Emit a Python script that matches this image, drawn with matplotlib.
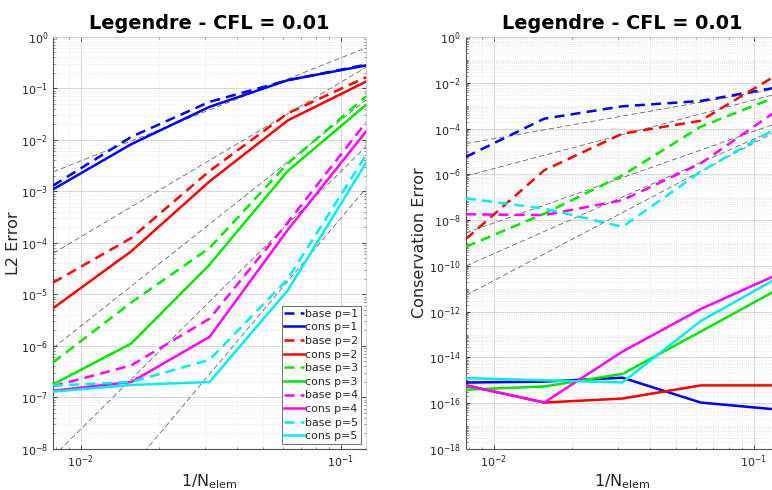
import matplotlib
matplotlib.use('Agg')
import matplotlib.pyplot as plt
import matplotlib.ticker as mticker
import numpy as np

# 1/N_elem
h = [1/128, 1/64, 1/32, 1/16, 1/8]
degrees = [1, 2, 3, 4, 5]
line_colors = ['#0000ff', '#ff0000', '#00e600', '#ff00ff', '#00eeee']

# L2 error, base scheme
l2_base_p1 = [1.3e-3, 1.15e-2, 5.5e-2, 1.45e-1, 2.9e-1]
l2_base_p2 = [1.7e-5, 1.25e-4, 2.5e-3, 3.3e-2, 1.65e-1]
l2_base_p3 = [4.8e-7, 7.0e-6, 8.0e-5, 3.5e-3, 7.0e-2]
l2_base_p4 = [1.65e-7, 4.2e-7, 3.4e-6, 2.5e-4, 2.2e-2]
l2_base_p5 = [1.7e-7, 2.0e-7, 5.4e-7, 2.0e-5, 5.1e-3]

# L2 error, conservative scheme
l2_cons_p1 = [1.1e-3, 8.3e-3, 4.4e-2, 1.45e-1, 2.8e-1]
l2_cons_p2 = [5.4e-6, 6.9e-5, 1.57e-3, 2.4e-2, 1.36e-1]
l2_cons_p3 = [1.8e-7, 1.12e-6, 3.8e-5, 2.5e-3, 4.8e-2]
l2_cons_p4 = [1.35e-7, 2.0e-7, 1.5e-6, 1.8e-4, 1.46e-2]
l2_cons_p5 = [1.3e-7, 1.75e-7, 2.0e-7, 1.2e-5, 3.6e-3]

# conservation error, base scheme
ce_base_p1 = [5.8e-6, 2.7e-4, 9.4e-4, 1.6e-3, 6.5e-3]
ce_base_p2 = [1.5e-9, 1.5e-6, 6.0e-5, 2.2e-4, 2.5e-2]
ce_base_p3 = [6.9e-10, 1.9e-8, 9.0e-7, 1.2e-4, 2.7e-3]
ce_base_p4 = [1.8e-8, 1.65e-8, 7.4e-8, 3.0e-6, 7.0e-4]
ce_base_p5 = [8.9e-8, 3.2e-8, 5.1e-9, 1.3e-6, 1.2e-4]

# conservation error, conservative scheme
ce_cons_p1 = [8.0e-16, 8.8e-16, 1.3e-15, 1.07e-16, 5.2e-17]
ce_cons_p2 = [6.0e-16, 1.07e-16, 1.6e-16, 6.0e-16, 6.0e-16]
ce_cons_p3 = [3.9e-16, 5.4e-16, 1.9e-15, 1.35e-13, 1.0e-11]
ce_cons_p4 = [6.0e-16, 1.07e-16, 1.8e-14, 1.3e-12, 4.5e-11]
ce_cons_p5 = [1.25e-15, 1.0e-15, 8.1e-16, 3.9e-13, 3.2e-11]

# reference slopes h^(p+1), value at h = 1/128
ref_orders = [2, 3, 4, 5, 6]
l2_ref_start = [2.4e-3, 6.3e-5, 9.1e-7, 7.1e-9, 6.9e-11]
ce_ref_start = [2.2e-5, 8.5e-7, 2.8e-9, 1.0e-10, 5.2e-12]

l2_base = [l2_base_p1, l2_base_p2, l2_base_p3, l2_base_p4, l2_base_p5]
l2_cons = [l2_cons_p1, l2_cons_p2, l2_cons_p3, l2_cons_p4, l2_cons_p5]
ce_base = [ce_base_p1, ce_base_p2, ce_base_p3, ce_base_p4, ce_base_p5]
ce_cons = [ce_cons_p1, ce_cons_p2, ce_cons_p3, ce_cons_p4, ce_cons_p5]

plt.rcParams['font.family'] = 'DejaVu Sans'
plt.rcParams['axes.labelsize'] = 11.5
plt.rcParams['xtick.labelsize'] = 8
plt.rcParams['ytick.labelsize'] = 8
plt.rcParams['xtick.direction'] = 'in'
plt.rcParams['ytick.direction'] = 'in'

AX_GREY = '#262626'


def log_label(v, pos):
    return r'$10^{%d}$' % int(round(np.log10(v)))


def setup_axes(ax, ylabel, ymin, ystep, ylabel_x):
    ax.set_xscale('log')
    ax.set_yscale('log')
    ax.set_xlim(h[0], h[-1])
    ax.set_ylim(ymin, 1)
    ax.xaxis.set_major_locator(mticker.FixedLocator([1e-2, 1e-1]))
    ax.xaxis.set_minor_locator(mticker.LogLocator(base=10, subs=np.arange(2, 10), numticks=50))
    ax.yaxis.set_major_locator(mticker.FixedLocator(10.0 ** np.arange(0, np.log10(ymin) - 1, -ystep)))
    ax.yaxis.set_minor_locator(mticker.LogLocator(base=10, subs=np.arange(1, 10), numticks=100))
    ax.xaxis.set_major_formatter(mticker.FuncFormatter(log_label))
    ax.yaxis.set_major_formatter(mticker.FuncFormatter(log_label))
    ax.xaxis.set_minor_formatter(mticker.NullFormatter())
    ax.yaxis.set_minor_formatter(mticker.NullFormatter())
    ax.grid(True, which='major', color='#d2d2d2', lw=0.6, ls='-')
    ax.grid(True, which='minor', color='#dddddd', lw=0.5, ls=':')
    ax.set_axisbelow(True)
    ax.tick_params(which='both', top=True, right=True, colors=AX_GREY, labelcolor=AX_GREY)
    ax.tick_params(which='major', length=3, width=0.6)
    ax.tick_params(which='minor', length=1.5, width=0.4)
    for side in ['left', 'bottom']:
        ax.spines[side].set_color('#555555')
        ax.spines[side].set_linewidth(0.8)
    for side in ['top', 'right']:
        ax.spines[side].set_color('#cccccc')
        ax.spines[side].set_linewidth(0.6)
    ax.set_title('Legendre - CFL = 0.01', fontsize=13.9, fontweight='bold', pad=6)
    ax.set_xlabel(r'1/N$_{\mathrm{elem}}$', color=AX_GREY, labelpad=1)
    ax.set_ylabel(ylabel, color=AX_GREY)
    ax.yaxis.set_label_coords(ylabel_x, 0.5)


def plot_panel(ax, base, cons, ref_start):
    hh = np.array(h)
    for c, o in zip(ref_start, ref_orders):
        ax.plot(hh, c * (hh / hh[0]) ** o, color='#5a5a5a', lw=0.55,
                ls=(0, (7, 4)), zorder=3)
    for p, col, b, s in zip(degrees, line_colors, base, cons):
        ax.plot(h, b, color=col, lw=1.8, ls=(0, (4, 2.5)), label='base p=%d' % p, zorder=4)
        ax.plot(h, s, color=col, lw=1.8, ls='-', label='cons p=%d' % p, zorder=4)


fig = plt.figure(figsize=(7.72, 4.9), dpi=100)
ax1 = fig.add_axes([0.0687, 0.0837, 0.4054, 0.8408])
ax2 = fig.add_axes([0.6036, 0.0837, 0.4054, 0.8408])

plot_panel(ax1, l2_base, l2_cons, l2_ref_start)
setup_axes(ax1, 'L2 Error', 1e-8, 1, -0.102)
leg = ax1.legend(loc='lower right', fontsize=7.9, handlelength=1.8, handletextpad=0.1,
                 labelspacing=0.33, borderpad=0.25, borderaxespad=0.45,
                 fancybox=False, framealpha=1)
leg.get_frame().set_edgecolor('#555555')
leg.get_frame().set_linewidth(0.6)
for t in leg.get_texts():
    t.set_color(AX_GREY)

plot_panel(ax2, ce_base, ce_cons, ce_ref_start)
setup_axes(ax2, 'Conservation Error', 1e-18, 2, -0.125)

fig.savefig('out.png', dpi=100)
plt.close()
